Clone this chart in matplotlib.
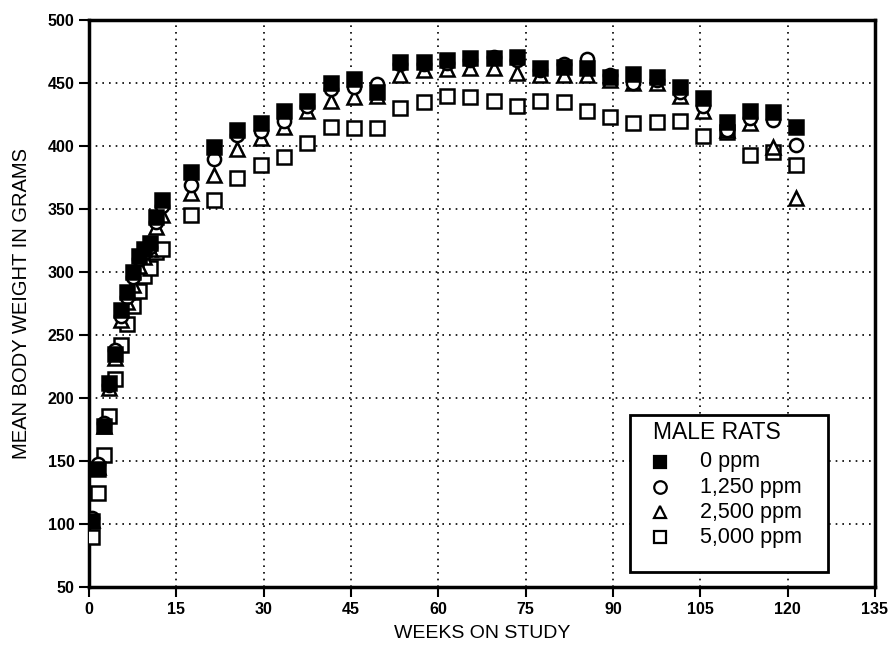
import matplotlib
matplotlib.use('Agg')
import matplotlib.pyplot as plt
from matplotlib.patches import Rectangle

# =====================================================================
# Data (weeks on study vs mean body weight, grams)
# =====================================================================
weeks = [0.5, 1.5, 2.5, 3.5, 4.5, 5.5, 6.5, 7.5, 8.5, 9.5, 10.5, 11.5, 12.5,
         17.5, 21.5, 25.5, 29.5, 33.5, 37.5, 41.5, 45.5, 49.5, 53.5, 57.5,
         61.5, 65.5, 69.5, 73.5, 77.5, 81.5, 85.5, 89.5, 93.5, 97.5, 101.5,
         105.5, 109.5, 113.5, 117.5, 121.5]

ppm_0 = [102, 144, 178, 212, 235, 270, 284, 300, 313, 318, 323, 344, 357,
         379, 399, 413, 418, 428, 436, 450, 453, 443, 467, 467, 468, 470,
         470, 471, 462, 463, 462, 455, 457, 455, 447, 438, 419, 428, 427, 415]
ppm_1250 = [105, 148, 180, 210, 238, 265, 280, 296, 310, 315, 320, 340, 352,
            369, 390, 409, 412, 420, 432, 445, 447, 449, 465, 465, 466, 468,
            471, 468, 460, 465, 469, 456, 450, 452, 443, 432, 413, 422, 421, 401]
ppm_2500 = [103, 145, 178, 208, 232, 262, 276, 290, 305, 312, 318, 336, 345,
            363, 377, 398, 406, 415, 428, 436, 439, 440, 456, 460, 461, 462,
            462, 458, 456, 456, 456, 452, 450, 450, 440, 428, 413, 418, 399, 359]
ppm_5000 = [90, 125, 155, 186, 215, 242, 259, 273, 285, 297, 303, 316, 318,
            345, 357, 375, 385, 391, 402, 415, 414, 414, 430, 435, 440, 439,
            436, 432, 436, 435, 428, 423, 418, 419, 420, 408, 411, 393, 395, 385]

legend_title = 'MALE RATS'
legend_labels = ['0 ppm', '1,250 ppm', '2,500 ppm', '5,000 ppm']
x_ticks = list(range(0, 136, 15))
y_ticks = list(range(50, 501, 50))

plt.rcParams['font.family'] = ['Liberation Sans', 'DejaVu Sans']

fig = plt.figure(figsize=(8.93, 6.45), dpi=100)
ax = fig.add_axes([0.0997, 0.0899, 0.8801, 0.8791])

ms = 9.5
mew = 1.8
series = [
    (ppm_5000, 's', 'white'),
    (ppm_2500, '^', 'white'),
    (ppm_1250, 'o', 'white'),
    (ppm_0, 's', 'black'),
]
for z, (vals, mk, fc) in enumerate(series):
    ax.plot(weeks, vals, linestyle='none', marker=mk, markersize=ms,
            markerfacecolor=fc, markeredgecolor='black', markeredgewidth=mew,
            zorder=3 + z)

ax.set_xlim(0, 135)
ax.set_ylim(50, 500)
ax.set_xticks(x_ticks)
ax.set_yticks(y_ticks)
ax.tick_params(direction='out', length=7, width=1.5, labelsize=11.5)
for lab in ax.get_xticklabels() + ax.get_yticklabels():
    lab.set_fontweight('bold')
ax.grid(True, color='black', linestyle=(0, (1, 3)), linewidth=1.2)
ax.set_axisbelow(True)
for sp in ax.spines.values():
    sp.set_linewidth(2.5)

ax.set_xlabel('WEEKS ON STUDY', fontsize=14, labelpad=6)
ax.set_ylabel('MEAN BODY WEIGHT IN GRAMS', fontsize=14.5, labelpad=12)

# Legend box drawn by hand (legend order: 0, 1250, 2500, 5000 ppm)
ax.add_patch(Rectangle((0.688, 0.026), 0.252, 0.277, transform=ax.transAxes,
                       facecolor='white', edgecolor='black', linewidth=2.0,
                       zorder=10))
ax.text(0.718, 0.272, legend_title, transform=ax.transAxes, fontsize=16.5,
        ha='left', va='center', zorder=11)
row_y = [0.2205, 0.176, 0.132, 0.088]
for (vals, mk, fc), lab, yy in zip(series[::-1], legend_labels, row_y):
    ax.plot([0.726], [yy], transform=ax.transAxes, linestyle='none', marker=mk,
            markersize=9, markerfacecolor=fc, markeredgecolor='black',
            markeredgewidth=1.6, zorder=11, clip_on=False)
    ax.text(0.777, yy, lab, transform=ax.transAxes, fontsize=15.5,
            ha='left', va='center', zorder=11)

fig.savefig('out.png', dpi=100)
